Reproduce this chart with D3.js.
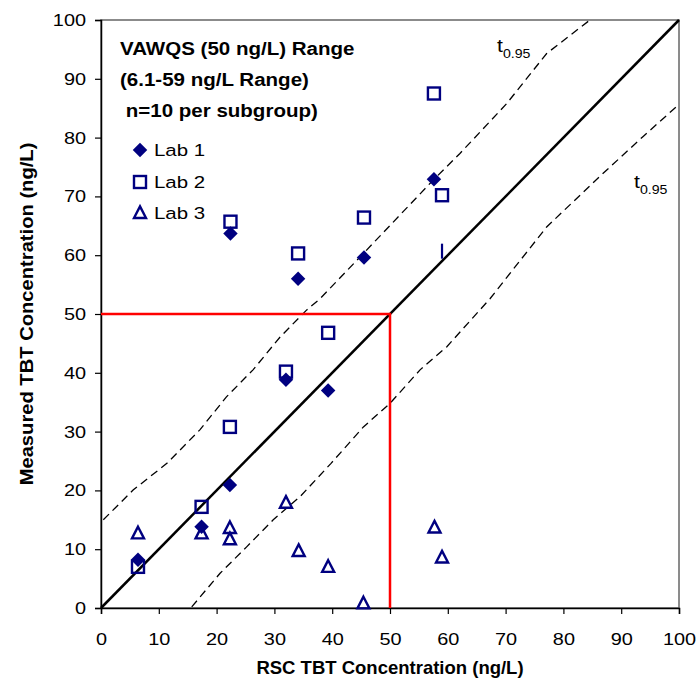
<!DOCTYPE html>
<html><head><meta charset="utf-8">
<script src="https://cdn.jsdelivr.net/npm/d3@7"></script>
<style>body{margin:0;background:#fff}svg{display:block}text{font-family:"Liberation Sans",Arial,sans-serif}</style>
</head><body>
<script>
const xTicks=[0,10,20,30,40,50,60,70,80,90,100];
const yTicks=[0,10,20,30,40,50,60,70,80,90,100];
const lab1X=[6.4,17.4,22.3,22.4,32,34.1,39.3,45.5,57.6];
const lab1Y=[8.2,13.8,20.9,63.7,38.8,56.0,37.0,59.6,72.9];
const lab1PartialX=[59];
const lab1PartialY=[60.6];
const lab2X=[6.4,17.4,22.3,22.4,32,34.1,39.3,45.5,57.6,59];
const lab2Y=[7.0,17.2,30.8,65.7,40.2,60.3,46.8,66.4,87.5,70.2];
const lab3X=[6.4,17.4,22.3,22.3,32,34.2,39.3,45.4,57.7,59];
const lab3Y=[12.7,12.7,13.6,11.7,17.9,9.7,7.0,0.8,13.7,8.6];
const upperX=[0.4,5.6,11.4,17.1,21.7,26.3,31,35.6,37.9,45.4,57.5,62.1,70.2,77.1,84.6];
const upperY=[15.0,20.1,24.6,30.3,35.9,40.5,46.1,50.7,52.6,60.3,72.8,77.3,85.8,94.3,100];
const lowerX=[15.7,20.6,25.2,29.8,34.4,39.8,45.4,50,55.2,59.8,67.3,77.1,86.3,93.8,99.6];
const lowerY=[0.2,5.9,10.4,15,18.9,24.6,30.8,34.8,40.5,44.4,52.6,64.8,73.4,80.2,85.3];
const refLineX=[0,100];
const refLineY=[0,100];
const wqsX=[0,50,50];
const wqsY=[50,50,0];
const titleLines=["VAWQS (50 ng/L) Range","(6.1-59 ng/L Range)","\u00a0n=10 per subgroup)"];
const legendLabels=["Lab 1","Lab 2","Lab 3"];

const W=696,H=684;
const svg=d3.select("body").append("svg").attr("width",W).attr("height",H);
const x=d3.scaleLinear().domain([0,100]).range([101,679]);
const y=d3.scaleLinear().domain([0,100]).range([608,20]);
const navy="#000080";

function stretch(sel,s){sel.each(function(){const t=d3.select(this);const ax=+(t.attr("x")||0);
  const prev=t.attr("transform")||"";
  t.attr("transform",`${prev} translate(${ax},0) scale(${s},1) translate(${-ax},0)`);});}

// frame
svg.append("rect").attr("x",x(0)).attr("y",y(100)).attr("width",x(100)-x(0)).attr("height",y(0)-y(100))
  .attr("fill","none").attr("stroke","#666").attr("stroke-width",1.5);

const xa=svg.append("g").attr("transform",`translate(0,${y(0)})`)
  .call(d3.axisBottom(x).tickValues(xTicks).tickSize(6).tickPadding(10).tickFormat(d3.format("d")));
const ya=svg.append("g").attr("transform",`translate(${x(0)},0)`)
  .call(d3.axisLeft(y).tickValues(yTicks).tickSize(6).tickPadding(9).tickFormat(d3.format("d")));
[xa,ya].forEach(a=>{a.select(".domain").attr("stroke","#000").attr("stroke-width",1.5);
  a.selectAll(".tick line").attr("stroke","#000").attr("stroke-width",1.2);
  a.selectAll("text").attr("font-size",17).attr("fill","#000").style("font-family","'Liberation Sans',Arial,sans-serif");});
xa.selectAll("text").attr("dy","1.25em");
stretch(xa.selectAll("text"),1.17);
stretch(ya.selectAll("text"),1.17);

const line=d3.line().x(d=>x(d[0])).y(d=>y(d[1]));
// dashed t-lines
svg.append("path").attr("d",line(d3.zip(upperX,upperY))).attr("fill","none").attr("stroke","#000").attr("stroke-width",1.3).attr("stroke-dasharray","8,5");
svg.append("path").attr("d",line(d3.zip(lowerX,lowerY))).attr("fill","none").attr("stroke","#000").attr("stroke-width",1.3).attr("stroke-dasharray","8,5");
// 1:1 line
svg.append("path").attr("d",line(d3.zip(refLineX,refLineY))).attr("fill","none").attr("stroke","#000").attr("stroke-width",2.5);
// red WQS lines
svg.append("path").attr("d",line(d3.zip(wqsX,wqsY))).attr("fill","none").attr("stroke","#ff0000").attr("stroke-width",2.5);

const diamond=d3.symbol().type(d3.symbolSquare).size(105)();
const tri=(w)=>`M0,${-w*0.55}L${w*0.5},${w*0.42}L${-w*0.5},${w*0.42}Z`;

// Lab 2 squares
svg.append("g").selectAll("rect").data(d3.zip(lab2X,lab2Y)).join("rect")
  .attr("x",d=>x(d[0])-6).attr("y",d=>y(d[1])-6).attr("width",12).attr("height",12)
  .attr("fill","none").attr("stroke",navy).attr("stroke-width",2.4);
// Lab 1 diamonds
svg.append("g").selectAll("path").data(d3.zip(lab1X,lab1Y)).join("path")
  .attr("d",diamond).attr("transform",d=>`translate(${x(d[0])},${y(d[1])}) rotate(45)`).attr("fill",navy);
svg.append("g").selectAll("line").data(d3.zip(lab1PartialX,lab1PartialY)).join("line")
  .attr("x1",d=>x(d[0])).attr("x2",d=>x(d[0])).attr("y1",d=>y(d[1])-8).attr("y2",d=>y(d[1])+7)
  .attr("stroke",navy).attr("stroke-width",2.2);
// Lab 3 triangles
svg.append("g").selectAll("path").data(d3.zip(lab3X,lab3Y)).join("path")
  .attr("d",tri(12)).attr("transform",d=>`translate(${x(d[0])},${y(d[1])})`)
  .attr("fill","none").attr("stroke",navy).attr("stroke-width",2.4).attr("stroke-linejoin","miter");

// title
const tt=svg.append("text").attr("x",120).attr("y",55).attr("font-size",18.5).attr("font-weight","bold").attr("fill","#000");
titleLines.forEach((t,i)=>tt.append("tspan").attr("x",120).attr("y",55+i*31).text(t));
stretch(tt,1.11);

// legend
const lg=svg.append("g");
const ly=[150,182,213];
lg.append("path").attr("d",diamond).attr("transform",`translate(140,${ly[0]}) rotate(45)`).attr("fill",navy);
lg.append("rect").attr("x",134).attr("y",ly[1]-6).attr("width",12).attr("height",12).attr("fill","none").attr("stroke",navy).attr("stroke-width",2.4);
lg.append("path").attr("d",tri(12)).attr("transform",`translate(140,${ly[2]})`).attr("fill","none").attr("stroke",navy).attr("stroke-width",2.4);
legendLabels.forEach((t,i)=>{const e=lg.append("text").attr("x",154).attr("y",ly[i]+6).attr("font-size",16.5).attr("fill","#000").text(t);stretch(e,1.24);});

// t0.95 labels
function tlab(px,py){const t=svg.append("text").attr("x",px).attr("y",py).attr("font-size",18).attr("fill","#000");
  t.append("tspan").text("t");t.append("tspan").attr("font-size",12).attr("dy",6).text("0.95");stretch(t,1.18);}
tlab(497,52);tlab(634,188);

// axis titles
svg.append("text").attr("x",390).attr("y",674).attr("text-anchor","middle").attr("font-size",18.5).attr("font-weight","bold").text("RSC TBT Concentration (ng/L)");
const yl=svg.append("text").attr("transform","translate(33,314) rotate(-90) scale(1.09,1)").attr("text-anchor","middle").attr("font-size",18.5).attr("font-weight","bold").text("Measured TBT Concentration (ng/L)");
</script>
</body></html>
